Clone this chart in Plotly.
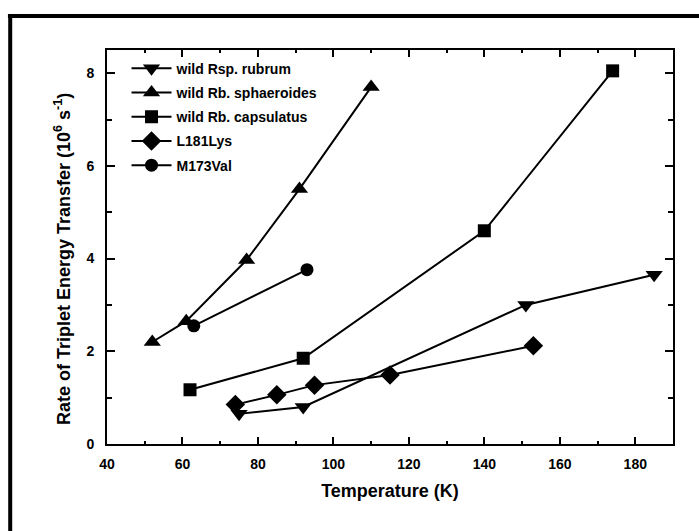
import plotly.graph_objects as go

# ---- data ----
rubrum_T = [75, 92, 151, 185]
rubrum_R = [0.65, 0.80, 3.00, 3.65]

sphaer_T = [52, 61, 77, 91, 110]
sphaer_R = [2.20, 2.65, 3.97, 5.50, 7.70]

capsul_T = [62, 92, 140, 174]
capsul_R = [1.17, 1.85, 4.60, 8.05]

l181_T = [74, 85, 95, 115, 153]
l181_R = [0.85, 1.06, 1.27, 1.49, 2.12]

m173_T = [63, 93]
m173_R = [2.55, 3.76]

names = ["wild Rsp. rubrum", "wild Rb. sphaeroides", "wild Rb. capsulatus", "L181Lys", "M173Val"]
xs = [rubrum_T, sphaer_T, capsul_T, l181_T, m173_T]
ys = [rubrum_R, sphaer_R, capsul_R, l181_R, m173_R]
symbols = ["triangle-down", "triangle-up", "square", "diamond", "circle"]
sizes = [15, 15, 13, 15, 13]

FONT = "Liberation Sans, Arial, sans-serif"

fig = go.Figure()
for i in range(5):
    fig.add_trace(go.Scatter(
        x=xs[i], y=ys[i], name=names[i], mode="lines+markers",
        legendgroup=f"g{i}",
        line=dict(color="black", width=2),
        marker=dict(symbol=symbols[i], size=sizes[i], color="black"),
    ))

axis_common = dict(
    showline=True, linecolor="black", linewidth=2, mirror="ticks",
    ticks="inside", tickcolor="black", tickwidth=2,
    showgrid=False, zeroline=False,
    tickfont=dict(family=FONT, size=14, color="black", weight="bold"),
)

fig.update_xaxes(
    range=[40, 190], tickmode="array", tickvals=[40, 60, 80, 100, 120, 140, 160, 180],
    ticklen=7, ticklabelstandoff=6,
    minor=dict(tickvals=[50, 70, 90, 110, 130, 150, 170], ticks="inside", ticklen=3, tickwidth=2, tickcolor="black"),
    title=dict(text="Temperature (K)", standoff=14,
               font=dict(family=FONT, size=18, color="black", weight="bold")),
    **axis_common,
)
fig.update_yaxes(
    range=[0, 8.5], tickmode="array", tickvals=[0, 2, 4, 6, 8],
    ticklen=8, ticklabelstandoff=8,
    minor=dict(tickvals=[1, 3, 5, 7], ticks="inside", ticklen=5, tickwidth=2, tickcolor="black"),
    **axis_common,
)

fig.update_layout(
    width=699, height=531,
    margin=dict(l=107, r=26, t=50, b=87, autoexpand=False),
    paper_bgcolor="white", plot_bgcolor="white",
    showlegend=True,
    legend=dict(x=0.0345, y=0.993, xanchor="left", yanchor="top",
                bgcolor="rgba(0,0,0,0)", borderwidth=0,
                tracegroupgap=3, itemwidth=40,
                font=dict(family=FONT, size=14, color="black", weight="bold")),
    annotations=[dict(
        text="Rate of Triplet Energy Transfer (10<sup>6</sup> s<sup>-1</sup>)",
        xref="paper", yref="paper", x=-0.0795, y=0.5, yshift=-12,
        xanchor="center", yanchor="middle", textangle=-90, showarrow=False,
        font=dict(family=FONT, size=18, color="black", weight="bold"),
    )],
    shapes=[
        dict(type="line", xref="paper", yref="paper",
             x0=-0.171, x1=-0.171, y0=-0.26, y1=1.091,
             line=dict(color="black", width=4), layer="below"),
        dict(type="line", xref="paper", yref="paper",
             x0=-0.175, x1=1.07, y0=1.086, y1=1.086,
             line=dict(color="black", width=4), layer="below"),
    ],
)

fig.write_html("out.html", config={"displayModeBar": False},
               post_script="document.body.style.margin='0';")
